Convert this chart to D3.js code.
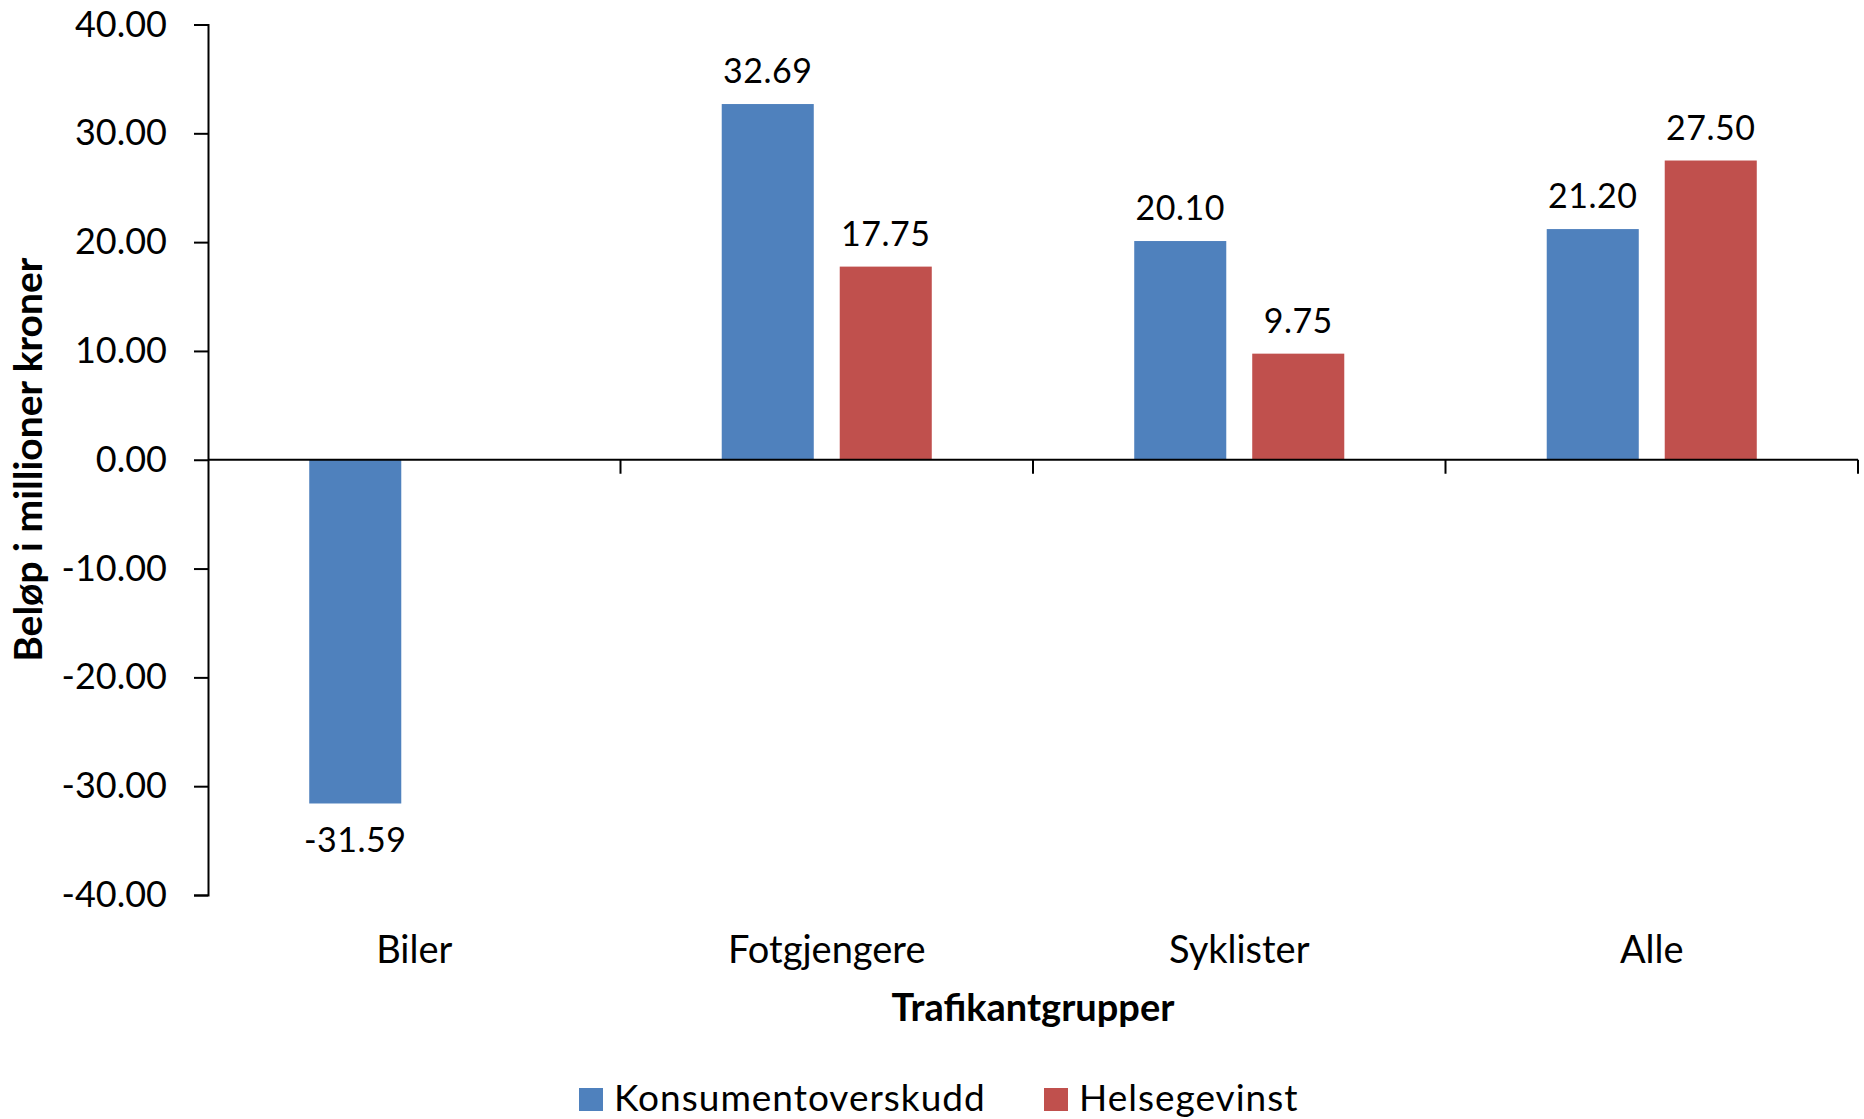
<!DOCTYPE html>
<html>
<head>
<meta charset="utf-8">
<script src="https://cdn.jsdelivr.net/npm/d3@7"></script>
<style>
  body { margin: 0; background: #fff; }
  svg { display: block; font-family: Lato, "Open Sans", sans-serif; }
  .axis line, .axis path { stroke: #000; stroke-width: 2; }
</style>
</head>
<body>
<svg id="chart" width="1864" height="1119"></svg>
<script>
let categories = ["Biler", "Fotgjengere", "Syklister", "Alle"];
let seriesNames = ["Konsumentoverskudd", "Helsegevinst"];
let konsument = [-31.59, 32.69, 20.10, 21.20];
let helse = [null, 17.75, 9.75, 27.50];
let yTicks = [-40, -30, -20, -10, 0, 10, 20, 30, 40];
let colors = ["#4F81BD", "#C0504D"];

let svg = d3.select("#chart");

let plot = { left: 208, right: 1858, top: 24.5, bottom: 895 };

// Excel style numbers: plain hyphen for minus
let fmt = v => d3.format(".2f")(v).replace("\u2212", "-");

let x0 = d3.scaleBand()
  .domain(categories)
  .range([plot.left, plot.right])
  .padding(0);

let x1 = d3.scaleBand()
  .domain(seriesNames)
  .range([x0.bandwidth() / 2 - 118, x0.bandwidth() / 2 + 118])
  .paddingInner(0.22)
  .paddingOuter(0.11);

let y = d3.scaleLinear()
  .domain([-40, 40])
  .range([plot.bottom, plot.top]);

let color = d3.scaleOrdinal().domain(seriesNames).range(colors);

// flatten to one record per bar
let bars = [];
categories.forEach(function (c, i) {
  bars.push({ cat: c, series: seriesNames[0], value: konsument[i] });
  bars.push({ cat: c, series: seriesNames[1], value: helse[i] });
});
bars = bars.filter(d => d.value !== null);

// bars
svg.append("g")
  .selectAll("rect")
  .data(bars)
  .enter()
  .append("rect")
  .attr("x", d => x0(d.cat) + x1(d.series))
  .attr("width", x1.bandwidth())
  .attr("y", d => y(Math.max(0, d.value)))
  .attr("height", d => Math.abs(y(d.value) - y(0)))
  .attr("fill", d => color(d.series));

// data labels
svg.append("g")
  .selectAll("text")
  .data(bars)
  .enter()
  .append("text")
  .attr("x", d => x0(d.cat) + x1(d.series) + x1.bandwidth() / 2)
  .attr("y", d => d.value >= 0 ? y(d.value) - 21 : y(d.value) + 49)
  .attr("text-anchor", "middle")
  .style("font-size", "34px")
  .style("letter-spacing", "0.5px")
  .style("fill", "#000")
  .text(d => fmt(d.value));

// y axis
let yAxis = svg.append("g")
  .attr("class", "axis")
  .attr("transform", `translate(${plot.left},0)`)
  .call(d3.axisLeft(y)
    .tickValues(yTicks)
    .tickFormat(fmt)
    .tickSize(14)
    .tickPadding(27));
yAxis.selectAll("text")
  .style("font-size", "36px")
  .style("font-family", "Lato, sans-serif")
  .style("fill", "#000");

// x axis line at zero with boundary ticks
let xAxis = svg.append("g").attr("class", "axis");
xAxis.append("line")
  .attr("x1", plot.left).attr("x2", plot.right)
  .attr("y1", y(0)).attr("y2", y(0));
let bounds = categories.slice(1).map(c => x0(c)).concat([plot.right]);
xAxis.selectAll(".bound")
  .data(bounds)
  .enter()
  .append("line")
  .attr("class", "bound")
  .attr("x1", d => d).attr("x2", d => d)
  .attr("y1", y(0)).attr("y2", y(0) + 14);

// category labels at the bottom
let catAxis = svg.append("g")
  .attr("transform", `translate(0,${plot.bottom})`)
  .call(d3.axisBottom(x0).tickSize(0).tickPadding(0));
catAxis.select(".domain").remove();
catAxis.selectAll("text")
  .attr("dy", null)
  .attr("y", 68)
  .style("font-size", "38px")
  .style("font-family", "Lato, sans-serif")
  .style("fill", "#000");

// axis titles
svg.append("text")
  .attr("x", (plot.left + plot.right) / 2)
  .attr("y", 1021)
  .attr("text-anchor", "middle")
  .style("font-size", "38px")
  .style("font-weight", "bold")
  .text("Trafikantgrupper");

svg.append("text")
  .attr("transform", `translate(42,${(plot.top + plot.bottom) / 2}) rotate(-90)`)
  .attr("text-anchor", "middle")
  .style("font-size", "39px")
  .style("font-weight", "bold")
  .text("Beløp i millioner kroner");

// legend
let legendX = [579, 1044];
let legend = svg.append("g")
  .selectAll("g")
  .data(seriesNames)
  .enter()
  .append("g")
  .attr("transform", (d, i) => `translate(${legendX[i]},1088)`);
legend.append("rect")
  .attr("width", 24).attr("height", 23)
  .attr("fill", d => color(d));
legend.append("text")
  .attr("x", 35)
  .attr("y", 23)
  .style("font-size", "37px")
  .style("letter-spacing", "1px")
  .style("fill", "#000")
  .text(d => d);
</script>
</body>
</html>
